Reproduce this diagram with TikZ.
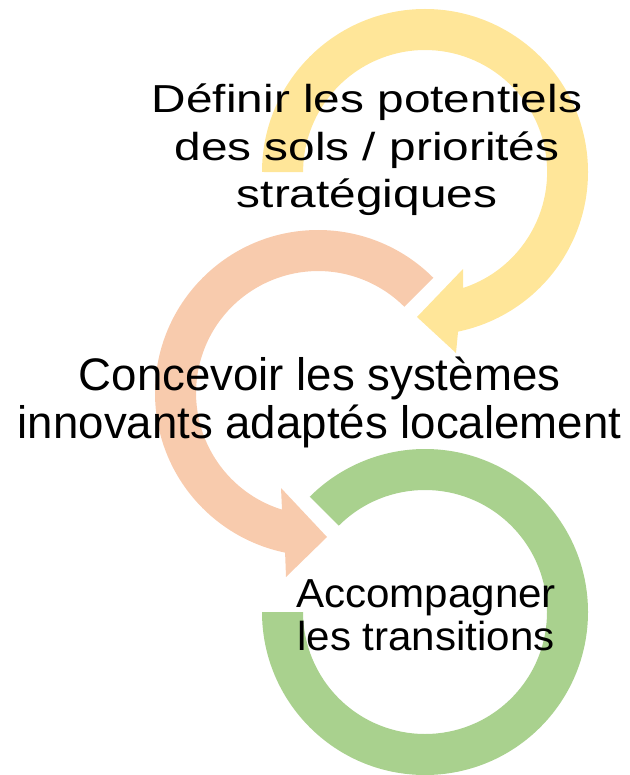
\documentclass[tikz,border=0pt]{standalone}
\usepackage{fontspec}
\usetikzlibrary{calc}
\setmainfont{Liberation Sans}
\newfontfamily\fontA[FakeStretch=1.225]{Liberation Sans}
\newfontfamily\fontB{Liberation Sans}
\newfontfamily\fontC[FakeStretch=1.04]{Liberation Sans}
\definecolor{cyellow}{HTML}{FFE699}
\definecolor{corange}{HTML}{F8CBAD}
\definecolor{cgreen}{HTML}{A9D18E}
\begin{document}
\begin{tikzpicture}[x=1pt,y=1pt,
  lbl/.style={inner sep=0pt, align=center, text=black}]
\useasboundingbox (0,0) rectangle (629,-775);
% yellow arrow
\fill[cyellow] (262,-172) arc[start angle=180, end angle=-78.3, radius=163]
  -- (456,-353) -- (417,-317) -- (463,-269) -- (463,-288)
  arc[start angle=-71.9, end angle=180, radius=122] -- cycle;
% orange arrow
\fill[corange] ($(318,-393)+(45:163)$) arc[start angle=45, end angle=258.35, radius=163]
  -- (286,-577) -- (327,-537) -- (281,-488) -- (282,-509.6)
  arc[start angle=252.8, end angle=45, radius=122] -- cycle;
% green ring
\fill[cgreen] (262,-612) arc[start angle=180, end angle=495, radius=163]
  -- ($(425,-612)+(495:122)$) arc[start angle=495, end angle=180, radius=122] -- cycle;
% texts
\node[lbl, anchor=base, font=\fontA\fontsize{39}{47.5}\selectfont] (t1) at (367,-208)
  {Définir les potentiels\\des sols / priorités\\stratégiques};
\node[lbl, anchor=base, font=\fontB\fontsize{45.6}{47.5}\selectfont] (t2) at (319.5,-438)
  {Concevoir les systèmes\\innovants adaptés localement};
\node[lbl, anchor=base, font=\fontC\fontsize{40.5}{43}\selectfont] (t3) at (426,-650)
  {Accompagner\\les transitions};
\end{tikzpicture}
\end{document}
